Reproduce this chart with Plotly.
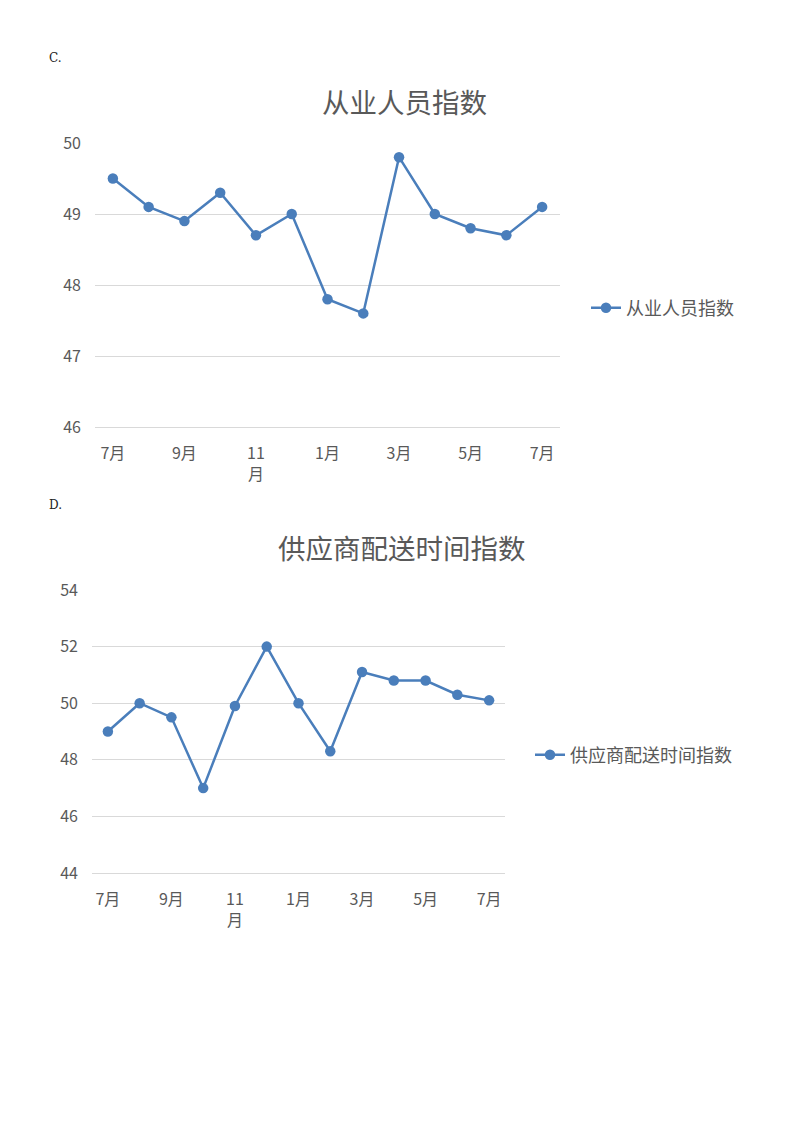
import plotly.graph_objects as go

months = ["7月", "8月", "9月", "10月", "11月", "12月", "1月", "2月", "3月", "4月", "5月", "6月", "7月"]
tick_labels = ["7月", "9月", "11<br>月", "1月", "3月", "5月", "7月"]
employment_index = [49.5, 49.1, 48.9, 49.3, 48.7, 49.0, 47.8, 47.6, 49.8, 49.0, 48.8, 48.7, 49.1]
delivery_index = [49.0, 50.0, 49.5, 47.0, 49.9, 52.0, 50.0, 48.3, 51.1, 50.8, 50.8, 50.3, 50.1]

W, H = 800, 1132
OFF = 8  # page body margin
def py(px):
    return 1 - (px - OFF) / H
def pxx(px):
    return (px - OFF) / W

BLUE = "#4A7EBB"
GRAY = "#595959"
GRID = "#D9D9D9"
FONT = "Noto Sans CJK SC"
xs = list(range(len(months)))
tickvals = xs[::2]

fig = go.Figure()
fig.add_trace(go.Scatter(x=xs, y=employment_index, mode="lines+markers", name="从业人员指数",
                         line=dict(color=BLUE, width=2.5), marker=dict(size=10.5, color=BLUE),
                         xaxis="x", yaxis="y", legend="legend"))
fig.add_trace(go.Scatter(x=xs, y=delivery_index, mode="lines+markers", name="供应商配送时间指数",
                         line=dict(color=BLUE, width=2.5), marker=dict(size=10.5, color=BLUE),
                         xaxis="x2", yaxis="y2", legend="legend2"))

tf = dict(family=FONT, size=16, color=GRAY)
xcommon = dict(showline=True, linecolor=GRID, linewidth=1.3, zeroline=False, ticks="", automargin=False,
               tickfont=tf, ticklabelstandoff=12, showgrid=False, range=[-0.5, 12.5],
               tickvals=tickvals, ticktext=tick_labels)
ycommon = dict(showline=False, zeroline=False, ticks="", automargin=False, tickfont=tf,
               ticklabelstandoff=13, showgrid=True, gridcolor=GRID, gridwidth=1.3)
fig.update_layout(
    width=W, height=H, margin=dict(l=0, r=0, t=0, b=0, pad=0, autoexpand=False),
    paper_bgcolor="white", plot_bgcolor="white",
    font=dict(family=FONT, color=GRAY),
    xaxis=dict(domain=[pxx(95), pxx(560)], anchor="y", **xcommon),
    yaxis=dict(domain=[py(427), py(143)], range=[46, 50], dtick=1, anchor="x", **ycommon),
    xaxis2=dict(domain=[pxx(92), pxx(505)], anchor="y2", **xcommon),
    yaxis2=dict(domain=[py(873), py(590)], range=[44, 54], dtick=2, anchor="x2", **ycommon),
    legend=dict(x=pxx(586), y=py(308), xanchor="left", yanchor="middle", bgcolor="rgba(0,0,0,0)",
                font=dict(family=FONT, size=18, color=GRAY)),
    legend2=dict(x=pxx(530), y=py(755), xanchor="left", yanchor="middle", bgcolor="rgba(0,0,0,0)",
                 font=dict(family=FONT, size=18, color=GRAY)),
    showlegend=True,
    annotations=[
        dict(text="从业人员指数", x=pxx(404), y=py(101), xref="paper", yref="paper", showarrow=False,
             xanchor="center", yanchor="middle", font=dict(family=FONT, size=27.5, color=GRAY)),
        dict(text="供应商配送时间指数", x=pxx(402), y=py(547), xref="paper", yref="paper", showarrow=False,
             xanchor="center", yanchor="middle", font=dict(family=FONT, size=27.5, color=GRAY)),
        dict(text="C.", x=pxx(47), y=py(58), xref="paper", yref="paper", showarrow=False,
             xanchor="left", yanchor="middle", font=dict(family="DejaVu Serif", size=12, color="#222222")),
        dict(text="D.", x=pxx(47), y=py(505), xref="paper", yref="paper", showarrow=False,
             xanchor="left", yanchor="middle", font=dict(family="DejaVu Serif", size=12, color="#222222")),
    ],
)

fig.write_html("out.html")
